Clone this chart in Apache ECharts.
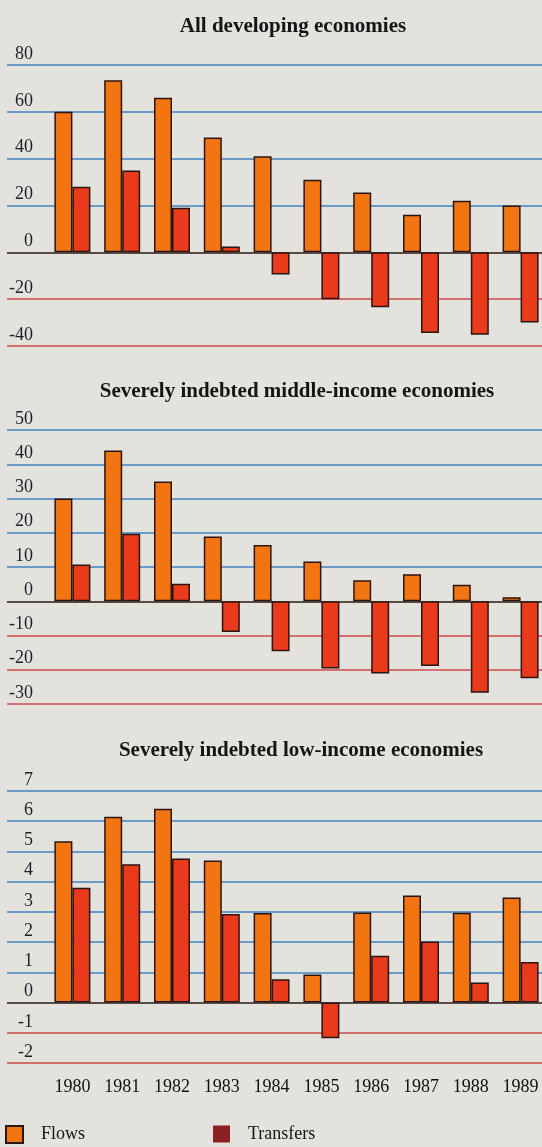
<!DOCTYPE html>
<html>
<head>
<meta charset="utf-8">
<script src="https://cdn.jsdelivr.net/npm/echarts@6/dist/echarts.min.js"></script>
<style>
html,body{margin:0;padding:0;background:#e4e2dc;}
#chart{width:542px;height:1147px;}
</style>
</head>
<body>
<div id="chart"></div>
<script>
const years = ['1980','1981','1982','1983','1984','1985','1986','1987','1988','1989'];

const panelTitles = ['All developing economies', 'Severely indebted middle-income economies', 'Severely indebted low-income economies'];

const allFlows = [60, 73.5, 66, 49, 41, 31, 25.5, 16, 22, 20];
const allTransfers = [28, 35, 19, 2.5, -9.5, -20, -23.5, -34.4, -35.2, -30];

const midFlows = [30, 44, 35, 18.9, 16.4, 11.6, 6.1, 7.9, 4.8, 1.2];
const midTransfers = [10.7, 19.7, 5.1, -9, -14.6, -19.6, -21.1, -18.9, -26.7, -22.5];

const lowFlows = [5.34, 6.15, 6.41, 4.7, 2.96, 0.93, 2.98, 3.54, 2.97, 3.48];
const lowTransfers = [3.8, 4.58, 4.77, 2.93, 0.77, -1.18, 1.55, 2.02, 0.66, 1.34];

const axisRanges = [
  {min: -40, max: 80, interval: 20},
  {min: -30, max: 50, interval: 10},
  {min: -2, max: 7, interval: 1}
];

const panels = [
  {flows: allFlows, transfers: allTransfers},
  {flows: midFlows, transfers: midTransfers},
  {flows: lowFlows, transfers: lowTransfers}
];

const layout = [
  {top: 65, height: 281, titleTop: 11, titleLeft: 288},
  {top: 430, height: 274, titleTop: 376, titleLeft: 292},
  {top: 791, height: 272, titleTop: 735, titleLeft: 296}
];

const BLUE = '#4282c2', RED = '#cf4a4e', ZERO = '#2a1810';
const FLOW = '#f27512', TRANS = '#ea3a1c', EDGE = '#2a1510';
const FONT = '"Liberation Serif", "DejaVu Serif", serif';

function lineColors(r) {
  const cols = [];
  for (let v = r.min; v <= r.max + 1e-9; v += r.interval) {
    cols.push(v < 0 ? RED : (v === 0 ? ZERO : BLUE));
  }
  return cols;
}

const grid = [], xAxis = [], yAxis = [], series = [], title = [];
panels.forEach((p, i) => {
  const L = layout[i], r = axisRanges[i];
  title.push({
    text: panelTitles[i], left: L.titleLeft, top: L.titleTop, textAlign: 'center',
    textStyle: {fontFamily: FONT, fontWeight: 'bold', fontSize: 21, color: '#151515'}
  });
  // lines grid
  grid.push({left: 7, right: 0, top: L.top, height: L.height, outerBoundsMode: 'none'});
  // bars grid
  grid.push({left: 47.5, width: 498, top: L.top, height: L.height, outerBoundsMode: 'none', containLabel: false});
  const gA = i * 2, gB = i * 2 + 1;
  xAxis.push({type: 'category', gridIndex: gA, data: years, show: false});
  xAxis.push({
    type: 'category', gridIndex: gB, data: years,
    axisLine: {show: false, onZero: false}, axisTick: {show: false},
    axisLabel: {show: i === 2, fontFamily: FONT, fontSize: 18, color: '#111', margin: 15}
  });
  yAxis.push({
    type: 'value', gridIndex: gA, min: r.min, max: r.max, interval: r.interval,
    axisLine: {show: false}, axisTick: {show: false},
    axisLabel: {inside: true, align: 'right', margin: 26, verticalAlign: 'bottom',
      padding: [0, 0, 2, 0], fontFamily: FONT, fontSize: 18, color: '#1e1e28'},
    splitLine: {show: true, lineStyle: {color: lineColors(r), width: 1.6}}
  });
  yAxis.push({
    type: 'value', gridIndex: gB, min: r.min, max: r.max, interval: r.interval,
    show: false, splitLine: {show: false}
  });
  series.push({
    name: 'Flows', type: 'bar', xAxisIndex: gB, yAxisIndex: gB, data: p.flows,
    barWidth: 18, barGap: '0%',
    itemStyle: {color: FLOW, borderColor: EDGE, borderWidth: 1.5}
  });
  series.push({
    name: 'Transfers', type: 'bar', xAxisIndex: gB, yAxisIndex: gB, data: p.transfers,
    barWidth: 18, barGap: '0%',
    itemStyle: {color: TRANS, borderColor: EDGE, borderWidth: 1.5}
  });
});

const chart = echarts.init(document.getElementById('chart'), null, {renderer: 'canvas'});
chart.setOption({
  backgroundColor: '#e4e2dc',
  animation: false,
  title: title,
  legend: [
    {left: 5, top: 1125, padding: 0, itemWidth: 17, itemHeight: 17, icon: 'rect',
      textStyle: {fontFamily: FONT, fontSize: 18, color: '#151515', padding: [0, 0, 0, 13]},
      data: [{name: 'Flows', itemStyle: {color: FLOW, borderColor: EDGE, borderWidth: 2}}]},
    {left: 213, top: 1125, padding: 0, itemWidth: 17, itemHeight: 17, icon: 'rect',
      textStyle: {fontFamily: FONT, fontSize: 18, color: '#151515', padding: [0, 0, 0, 13]},
      data: [{name: 'Transfers', itemStyle: {color: '#8a1f24', borderWidth: 0}}]}
  ],
  grid: grid, xAxis: xAxis, yAxis: yAxis, series: series
});
</script>
</body>
</html>
